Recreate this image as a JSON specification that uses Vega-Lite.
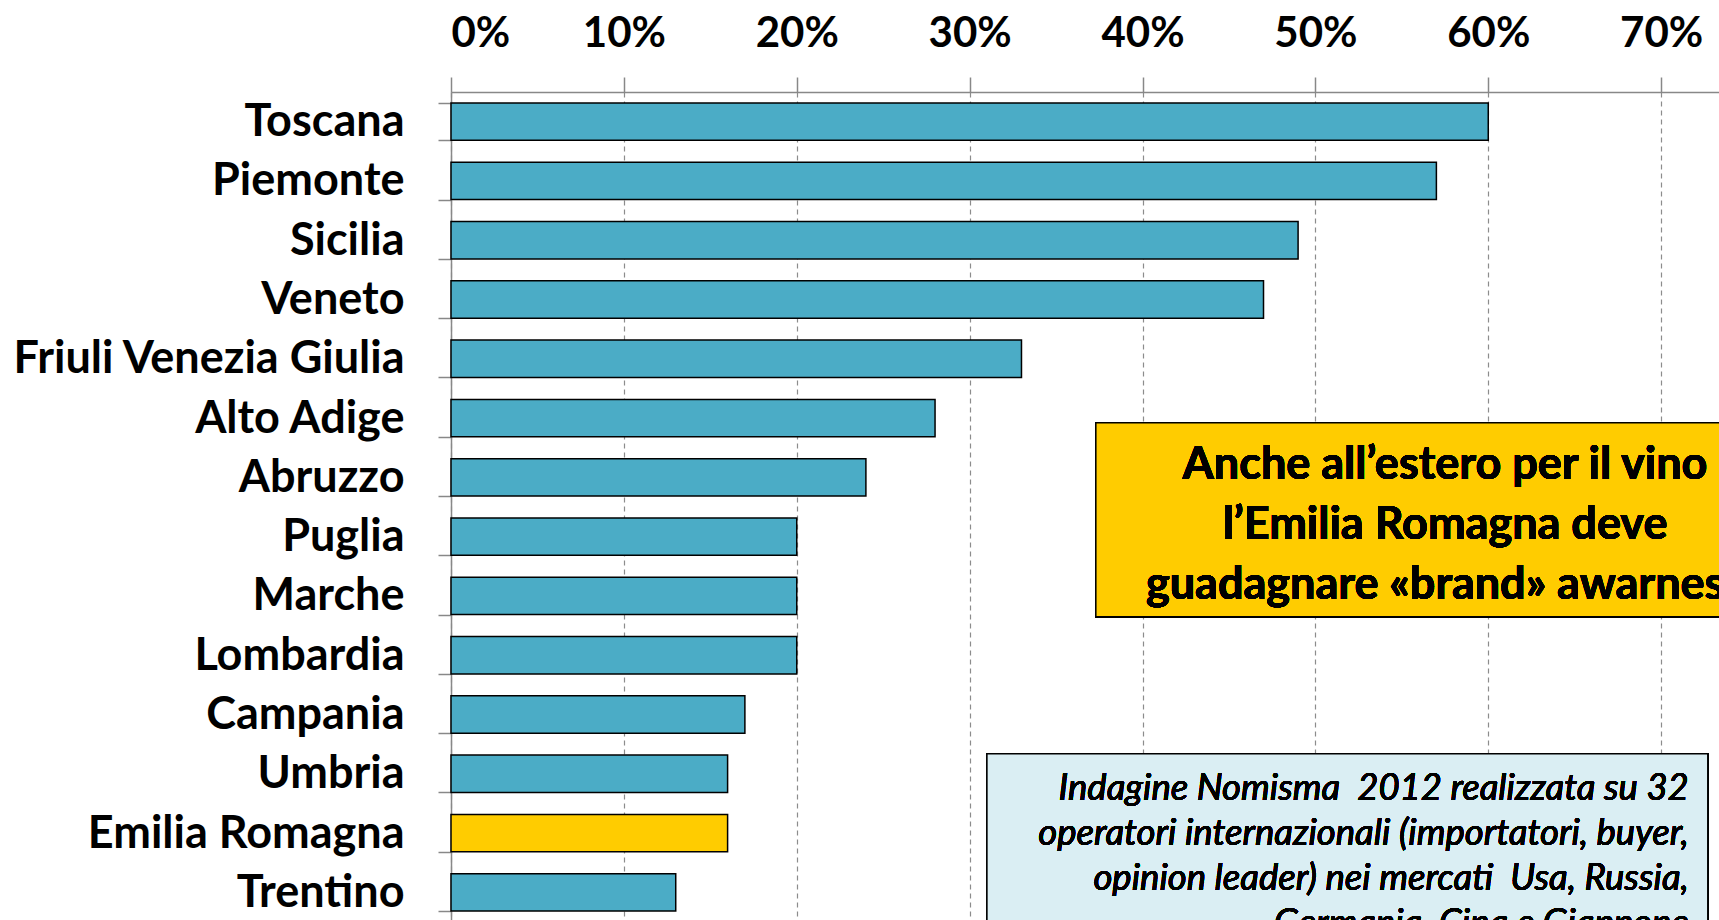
{
  "$schema": "https://vega.github.io/schema/vega-lite/v6.json",
  "autosize": {"type": "none"},
  "padding": {"left": 451, "top": 92, "right": 0, "bottom": 0},
  "width": 1383,
  "height": 830,
  "background": "white",
  "config": {"view": {"stroke": null}, "font": "Lato"},
  "data": {"values": [
    {"region": "Toscana", "share": 0.60, "group": "other"},
    {"region": "Piemonte", "share": 0.57, "group": "other"},
    {"region": "Sicilia", "share": 0.49, "group": "other"},
    {"region": "Veneto", "share": 0.47, "group": "other"},
    {"region": "Friuli Venezia Giulia", "share": 0.33, "group": "other"},
    {"region": "Alto Adige", "share": 0.28, "group": "other"},
    {"region": "Abruzzo", "share": 0.24, "group": "other"},
    {"region": "Puglia", "share": 0.20, "group": "other"},
    {"region": "Marche", "share": 0.20, "group": "other"},
    {"region": "Lombardia", "share": 0.20, "group": "other"},
    {"region": "Campania", "share": 0.17, "group": "other"},
    {"region": "Umbria\u2009", "share": 0.16, "group": "other"},
    {"region": "Emilia Romagna", "share": 0.16, "group": "highlight"},
    {"region": "Trentino", "share": 0.13, "group": "other"}
  ]},
  "resolve": {"scale": {"y": "independent"}, "axis": {"y": "independent"}},
  "layer": [
    {
      "mark": {"type": "bar", "stroke": "black", "strokeWidth": 1.5},
      "encoding": {
        "y": {
          "field": "region", "type": "nominal", "sort": null,
          "scale": {"paddingInner": 0.37, "paddingOuter": 0.185},
          "axis": {
            "title": null, "orient": "left",
            "labelFont": "Lato", "labelFontWeight": "bold", "labelFontSize": 45, "labelColor": "black",
            "labelPadding": 34, "tickBand": "extent", "tickSize": 13, "tickColor": "#888888", "tickWidth": 1.5,
            "domainColor": "#888888", "domainWidth": 1.5, "grid": false, "labelLimit": 600
          }
        },
        "x": {
          "field": "share", "type": "quantitative",
          "scale": {"domain": [0, 0.8], "nice": false, "zero": true},
          "axis": {
            "title": null, "orient": "top", "format": ".0%",
            "values": [0, 0.1, 0.2, 0.3, 0.4, 0.5, 0.6, 0.7, 0.8],
            "labelFont": "Lato", "labelFontWeight": "bold", "labelFontSize": 42, "labelColor": "black",
            "labelPadding": 22, "tickSize": 15, "tickColor": "#888888", "tickWidth": 1.5,
            "domainColor": "#888888", "domainWidth": 1.5,
            "grid": true, "gridColor": "#8c8c8c", "gridDash": [5, 4], "gridWidth": 1.2
          }
        },
        "color": {
          "field": "group", "type": "nominal", "legend": null,
          "scale": {"domain": ["other", "highlight"], "range": ["#4BACC6", "#FFCC00"]}
        }
      }
    },
    {
      "layer": [
        {
          "mark": {"type": "rect", "fill": "#FFCC00", "stroke": "black", "strokeWidth": 1.5},
          "encoding": {
            "x": {"datum": 0.373, "type": "quantitative"},
            "x2": {"datum": 0.777},
            "y": {"datum": 5.58, "type": "quantitative", "scale": {"domain": [0, 14], "reverse": true, "nice": false, "zero": false}, "axis": null},
            "y2": {"datum": 8.85}
          }
        },
        {
          "mark": {"type": "rect", "fill": "#DAEEF3", "stroke": "black", "strokeWidth": 1.5},
          "encoding": {
            "x": {"datum": 0.310, "type": "quantitative"},
            "x2": {"datum": 0.727},
            "y": {"datum": 11.16, "type": "quantitative"},
            "y2": {"datum": 14.6}
          }
        },
        {
          "mark": {
            "type": "text", "align": "center", "baseline": "middle",
            "font": "Lato", "fontWeight": "bold", "fontSize": 45, "lineHeight": 60, "color": "black",
            "text": ["Anche all’estero per il vino", "l’Emilia Romagna deve", "guadagnare «brand» awarness"]
          },
          "encoding": {
            "x": {"datum": 0.575, "type": "quantitative"},
            "y": {"datum": 6.29, "type": "quantitative"}
          }
        },
        {
          "mark": {
            "type": "text", "align": "right", "baseline": "middle",
            "font": "Lato", "fontStyle": "italic", "fontSize": 36.5, "lineHeight": 45, "color": "black",
            "text": ["Indagine Nomisma\u00a0 2012 realizzata su 32", "operatori internazionali (importatori, buyer,", "opinion leader) nei mercati\u00a0 Usa, Russia,", "Germania, Cina e Giappone"]
          },
          "encoding": {
            "x": {"datum": 0.716, "type": "quantitative"},
            "y": {"datum": 11.75, "type": "quantitative"}
          }
        }
      ]
    }
  ]
}
